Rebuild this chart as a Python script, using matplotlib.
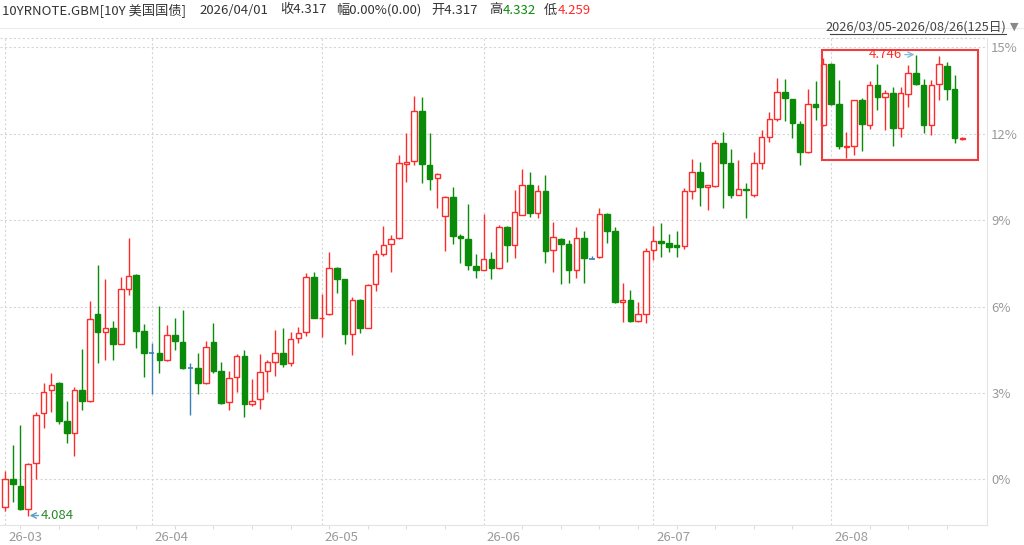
import numpy as np
import matplotlib
matplotlib.use('Agg')
import matplotlib.pyplot as plt
from matplotlib.patches import Rectangle
from matplotlib.transforms import ScaledTranslation

plt.rcParams['font.family'] = ['Noto Sans CJK SC', 'DejaVu Sans']

# 10Y US treasury yield, daily candles 2026/03/05 - 2026/08/26
opens = [4.096, 4.136, 4.126, 4.094, 4.159, 4.231, 4.264, 4.275, 4.220, 4.202,
         4.264, 4.248, 4.373, 4.347, 4.354, 4.331, 4.410, 4.430, 4.349, 4.317,
         4.317, 4.308, 4.343, 4.333, 4.296, 4.296, 4.274, 4.333, 4.292, 4.247,
         4.283, 4.313, 4.244, 4.251, 4.291, 4.304, 4.317, 4.303, 4.339, 4.347,
         4.426, 4.367, 4.373, 4.439, 4.423, 4.344, 4.393, 4.354, 4.416, 4.459,
         4.474, 4.482, 4.589, 4.593, 4.665, 4.587, 4.569, 4.514, 4.542, 4.485,
         4.481, 4.443, 4.437, 4.452, 4.439, 4.499, 4.472, 4.516, 4.559, 4.519,
         4.550, 4.465, 4.481, 4.474, 4.437, 4.483, 4.453, 4.455, 4.517, 4.493,
         4.391, 4.394, 4.363, 4.374, 4.465, 4.478, 4.476, 4.473, 4.471, 4.550,
         4.578, 4.556, 4.557, 4.619, 4.590, 4.545, 4.553, 4.544, 4.591, 4.628,
         4.654, 4.692, 4.682, 4.647, 4.606, 4.675, 4.645, 4.733, 4.675, 4.613,
         4.615, 4.681, 4.645, 4.703, 4.685, 4.691, 4.640, 4.690, 4.720, 4.703,
         4.645, 4.704, 4.729, 4.697, 4.625]
highs = [4.148, 4.185, 4.214, 4.160, 4.233, 4.274, 4.288, 4.276, 4.248, 4.268,
         4.323, 4.392, 4.444, 4.423, 4.364, 4.426, 4.482, 4.431, 4.359, 4.332,
         4.385, 4.358, 4.367, 4.379, 4.303, 4.318, 4.335, 4.361, 4.304, 4.292,
         4.316, 4.322, 4.280, 4.316, 4.307, 4.350, 4.354, 4.347, 4.355, 4.432,
         4.434, 4.402, 4.463, 4.441, 4.424, 4.398, 4.395, 4.416, 4.465, 4.500,
         4.487, 4.602, 4.633, 4.686, 4.685, 4.633, 4.576, 4.543, 4.556, 4.489,
         4.531, 4.460, 4.517, 4.462, 4.501, 4.500, 4.552, 4.581, 4.577, 4.559,
         4.573, 4.505, 4.482, 4.480, 4.499, 4.493, 4.457, 4.525, 4.518, 4.499,
         4.418, 4.408, 4.390, 4.468, 4.500, 4.504, 4.489, 4.493, 4.554, 4.596,
         4.592, 4.559, 4.624, 4.635, 4.611, 4.595, 4.562, 4.606, 4.638, 4.664,
         4.712, 4.711, 4.682, 4.651, 4.697, 4.708, 4.741, 4.734, 4.709, 4.635,
         4.681, 4.683, 4.708, 4.733, 4.695, 4.700, 4.700, 4.731, 4.746, 4.711,
         4.709, 4.744, 4.736, 4.717, 4.627]
lows = [4.090, 4.104, 4.092, 4.084, 4.137, 4.209, 4.232, 4.216, 4.188, 4.169,
        4.236, 4.247, 4.303, 4.307, 4.307, 4.330, 4.401, 4.324, 4.283, 4.259,
        4.288, 4.306, 4.322, 4.295, 4.228, 4.258, 4.273, 4.288, 4.244, 4.236,
        4.262, 4.225, 4.242, 4.237, 4.262, 4.284, 4.298, 4.299, 4.332, 4.342,
        4.367, 4.340, 4.372, 4.404, 4.330, 4.314, 4.346, 4.353, 4.407, 4.457,
        4.434, 4.481, 4.563, 4.587, 4.561, 4.552, 4.525, 4.464, 4.474, 4.446,
        4.437, 4.425, 4.436, 4.423, 4.438, 4.448, 4.454, 4.515, 4.513, 4.512,
        4.446, 4.434, 4.416, 4.418, 4.425, 4.418, 4.452, 4.454, 4.476, 4.389,
        4.362, 4.362, 4.362, 4.360, 4.451, 4.455, 4.463, 4.455, 4.467, 4.539,
        4.528, 4.523, 4.556, 4.525, 4.540, 4.544, 4.511, 4.541, 4.581, 4.621,
        4.650, 4.651, 4.626, 4.588, 4.604, 4.652, 4.644, 4.674, 4.610, 4.597,
        4.602, 4.607, 4.639, 4.667, 4.638, 4.614, 4.627, 4.671, 4.702, 4.634,
        4.631, 4.681, 4.681, 4.619, 4.624]
closes = [4.136, 4.129, 4.094, 4.158, 4.229, 4.262, 4.271, 4.220, 4.202, 4.264,
          4.248, 4.366, 4.347, 4.354, 4.331, 4.410, 4.428, 4.349, 4.317, 4.317,
          4.307, 4.343, 4.334, 4.296, 4.296, 4.274, 4.326, 4.292, 4.246, 4.281,
          4.313, 4.244, 4.249, 4.290, 4.304, 4.317, 4.301, 4.337, 4.346, 4.426,
          4.368, 4.368, 4.439, 4.423, 4.344, 4.393, 4.354, 4.415, 4.459, 4.473,
          4.481, 4.590, 4.592, 4.665, 4.589, 4.568, 4.575, 4.542, 4.486, 4.482,
          4.444, 4.437, 4.452, 4.439, 4.499, 4.472, 4.520, 4.559, 4.519, 4.550,
          4.464, 4.484, 4.474, 4.437, 4.483, 4.454, 4.453, 4.517, 4.493, 4.391,
          4.394, 4.363, 4.373, 4.464, 4.478, 4.476, 4.470, 4.470, 4.550, 4.578,
          4.556, 4.558, 4.619, 4.591, 4.544, 4.553, 4.551, 4.590, 4.627, 4.653,
          4.692, 4.683, 4.648, 4.606, 4.675, 4.671, 4.733, 4.675, 4.614, 4.615,
          4.681, 4.647, 4.703, 4.685, 4.691, 4.640, 4.691, 4.719, 4.704, 4.645,
          4.703, 4.733, 4.697, 4.626, 4.626]

base_close = 4.136          # reference close for the % axis
pct_ticks = [0, 3, 6, 9, 12, 15]
month_labels = ['26-03', '26-04', '26-05', '26-06', '26-07', '26-08']
month_start = [0, 19, 41, 62, 84, 107]
box_start = 106             # highlighted range start (candle index)

RED = '#ff2a2a'
GREEN = '#0a8c0a'
BLUE = '#3a7fb5'
GRID = '#d6d6d6'

o = np.array(opens)
h = np.array(highs)
l = np.array(lows)
c = np.array(closes)
x = np.arange(len(o))
up = c > o
dn = c < o
fl = c == o
cols = np.where(up, RED, np.where(dn, GREEN, BLUE))

fig = plt.figure(figsize=(10.24, 5.45), dpi=100)
ax = fig.add_axes([0, 20 / 545, 987 / 1024, 487 / 545])

W = 0.72
ax.vlines(x, l, h, colors=cols, linewidth=1, zorder=2)
ax.bar(x[up], c[up] - o[up], bottom=o[up], width=W, facecolor='white',
       edgecolor=RED, linewidth=1, zorder=3)
ax.bar(x[dn], o[dn] - c[dn], bottom=c[dn], width=W, facecolor=GREEN,
       edgecolor=GREEN, linewidth=1, zorder=3)
ax.hlines(o[fl], x[fl] - W / 2, x[fl] + W / 2, colors=BLUE, linewidth=1.2, zorder=3)

ax.set_xlim(-0.65, 127.2)
ax.set_ylim(4.0704, 4.7698)

# percent axis on the right
ax.yaxis.tick_right()
ax.set_yticks([base_close * (1 + p / 100) for p in pct_ticks])
ax.set_yticklabels([f'{p}%' for p in pct_ticks])
ax.tick_params(axis='y', length=0, pad=3, labelsize=9.5, labelcolor='#9a9a9a')

ax.set_xticks(month_start)
ax.set_xticklabels(month_labels, ha='left')
ax.set_xticks(range(2, len(x), 5), minor=True)
ax.tick_params(axis='x', which='major', length=0, pad=4, labelsize=9.5,
               labelcolor='#9a9a9a')
ax.tick_params(axis='x', which='minor', length=3, color='#dddddd', width=0.8)
off = ScaledTranslation(3 / 100, 0, fig.dpi_scale_trans)
for lab in ax.get_xticklabels():
    lab.set_transform(lab.get_transform() + off)

ax.grid(True, which='major', color=GRID, linestyle=(0, (2, 2)), linewidth=0.8)
ax.set_axisbelow(True)
ax.axhline(4.7698, color=GRID, linestyle=(0, (2, 2)), linewidth=0.8, clip_on=False)
for s in ['top', 'left']:
    ax.spines[s].set_visible(False)
ax.spines['right'].set_color('#e4e4e4')
ax.spines['bottom'].set_color('#e4e4e4')

# highlighted range box
hi = h[box_start:].max()
lo = l[box_start:].min()
ax.add_patch(Rectangle((box_start - 0.2, lo - 0.002), len(x) + 1.2 - box_start,
                       hi - lo + 0.008, fill=False, edgecolor='#f03c3c',
                       linewidth=1.5, zorder=5))

# max / min markers
imax = int(np.argmax(h))
imin = int(np.argmin(l))
ax.annotate(f'{h[imax]:.3f}', xy=(imax, h[imax]), xytext=(-14, 0),
            textcoords='offset pixels', ha='right', va='center', color=RED,
            fontsize=9.5, zorder=6,
            arrowprops=dict(arrowstyle='->', color='#8cbad8', lw=1,
                            shrinkA=0, shrinkB=1, relpos=(1, 0.5)))
ax.annotate(f'{l[imin]:.3f}', xy=(imin, l[imin]), xytext=(13, 0),
            textcoords='offset pixels', ha='left', va='center', color='#2a8a2a',
            fontsize=9.5, zorder=6,
            arrowprops=dict(arrowstyle='->', color='#5aa0c8', lw=1,
                            shrinkA=0, shrinkB=1, relpos=(0, 0.5)))

# header line
def ftext(px, s, color='#333333', size=9.5, y=535, ha='left'):
    fig.text(px / 1024, y / 545, s, color=color, fontsize=size, va='center', ha=ha)

ftext(2, '10YRNOTE.GBM[10Y 美国国债]')
ftext(199, '2026/04/01')
ftext(280, '收4.317')
ftext(336, '幅0.00%(0.00)')
ftext(431, '开4.317')
ftext(489, '高')
ftext(503, '4.332', color=GREEN)
ftext(544, '低')
ftext(558, '4.259', color=RED)

fig.add_artist(plt.Line2D([0, 1], [1 - 28 / 545] * 2, color='#ececec', linewidth=0.8))
ftext(1006, '2026/03/05-2026/08/26(125日)', color='#444444', size=9.2,
      y=545 - 27, ha='right')
fig.add_artist(plt.Line2D([830 / 1024, 1006 / 1024], [(545 - 34) / 545] * 2,
                          color='#444444', linewidth=0.8))
fig.text(1014 / 1024, (545 - 27) / 545, '▼', color='#888888', fontsize=8,
         ha='center', va='center', family='DejaVu Sans')

fig.savefig('out.png', dpi=100)
